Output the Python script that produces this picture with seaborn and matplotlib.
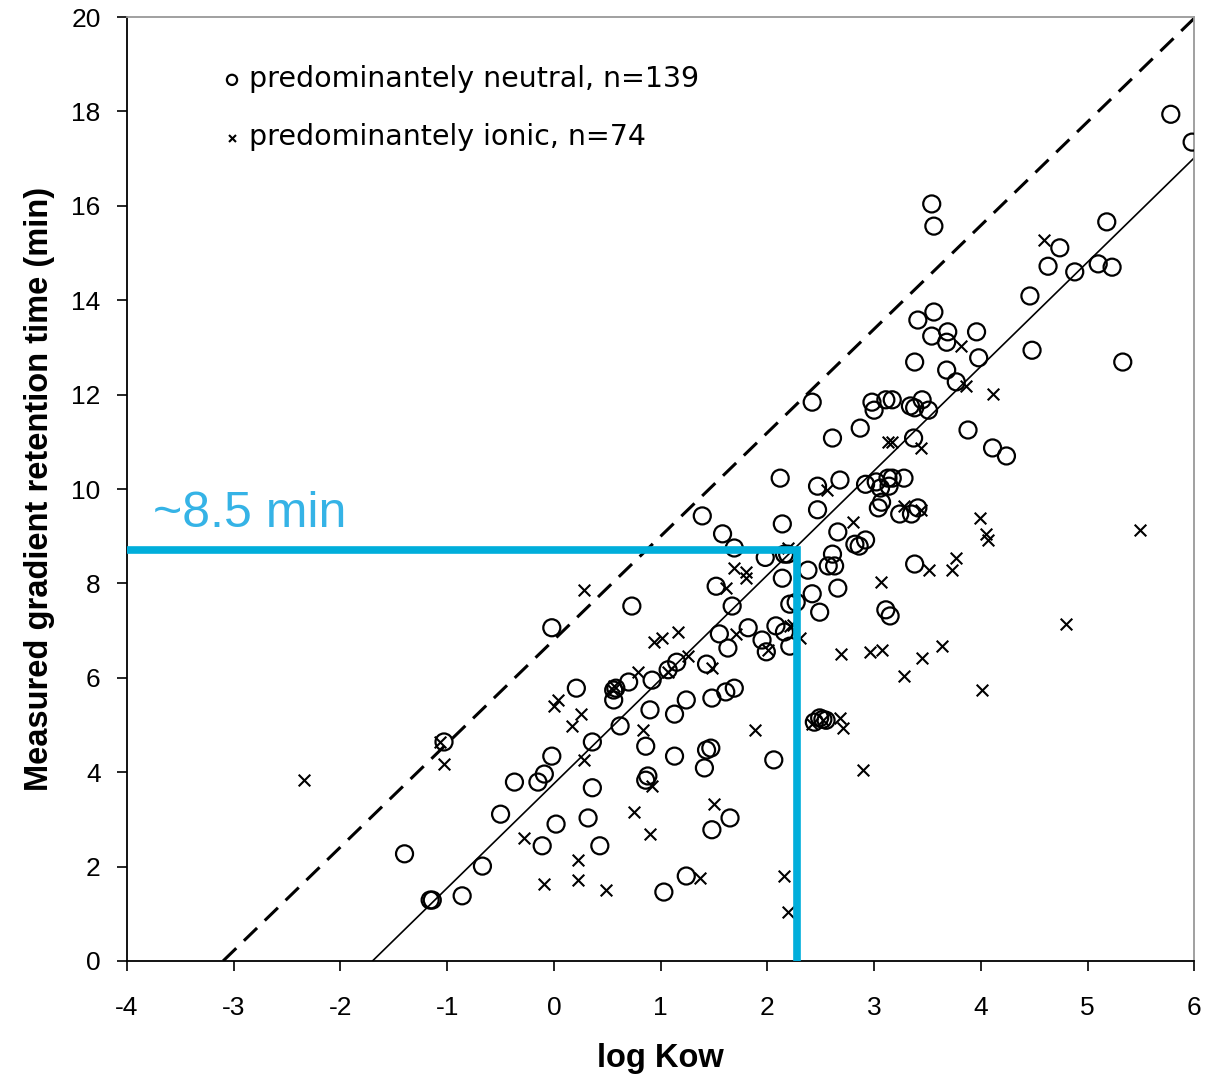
import pandas as pd
import matplotlib
matplotlib.use("Agg")
import matplotlib.pyplot as plt
import seaborn as sns

# predominantly neutral compounds (log Kow, retention time in min)
neutral_logkow = [5.78, 5.98, 3.54, 3.56, 5.18, 4.74, 4.63, 4.88, 5.10, 5.23, 4.46, 4.48, 5.33,
                  3.56, 3.41, 3.69, 3.68, 3.96, 3.54, 3.98, 3.38, 3.68, 3.77, 2.42, 2.98, 3.11,
                  3.17, 3.00, 3.34, 3.38, 3.45, 3.51, 3.88, 2.87, 2.61, 3.37, 4.11, 4.24, 2.12,
                  2.68, 3.13, 3.17, 3.28, 3.14, 2.47, 2.92, 3.06, 3.07, 3.04, 2.47, 3.24, 3.35,
                  3.41, 1.39, 2.14, 2.66, 1.58, 2.92, 2.82, 2.86, 1.69, 2.16, 2.61, 2.63, 2.57,
                  2.38, 3.38, 2.14, 1.52, 2.66, 2.42, 0.73, 1.67, 2.21, 2.49, 3.11, 3.15, 1.82,
                  2.08, 2.16, 1.55, -0.02, 1.95, 1.63, 1.99, 2.21, 1.15, 1.43, 1.07, 0.70, 0.56,
                  0.58, 0.21, 0.92, 1.24, 1.48, 1.61, 1.69, 0.56, 0.90, 1.13, 2.44, 2.49, 2.55,
                  0.62, -0.02, 0.36, -1.03, 0.86, 1.43, 1.47, 1.13, 2.06, -0.09, -0.37, -0.15,
                  0.86, 0.88, 1.41, 0.36, -0.50, 0.32, 0.02, 1.65, 1.48, -0.11, 0.43, -1.40,
                  -0.67, 1.24, -1.14, -1.16, -0.86, 1.03, 2.19, 2.27, 1.98, 2.52, 3.02]
neutral_rt = [17.94, 17.35, 16.04, 15.57, 15.66, 15.11, 14.72, 14.60, 14.77, 14.70, 14.09, 12.94, 12.69,
              13.75, 13.58, 13.33, 13.11, 13.33, 13.24, 12.78, 12.69, 12.52, 12.27, 11.84, 11.84, 11.89,
              11.89, 11.67, 11.76, 11.72, 11.89, 11.67, 11.25, 11.29, 11.08, 11.08, 10.87, 10.70, 10.23,
              10.19, 10.23, 10.23, 10.23, 10.06, 10.06, 10.10, 10.02, 9.72, 9.60, 9.56, 9.47, 9.47,
              9.60, 9.43, 9.26, 9.09, 9.05, 8.92, 8.83, 8.79, 8.75, 8.62, 8.62, 8.37, 8.37,
              8.28, 8.41, 8.11, 7.94, 7.90, 7.78, 7.52, 7.52, 7.56, 7.39, 7.44, 7.31, 7.06,
              7.10, 6.97, 6.93, 7.06, 6.80, 6.63, 6.55, 6.67, 6.33, 6.29, 6.17, 5.91, 5.74,
              5.78, 5.78, 5.95, 5.53, 5.57, 5.70, 5.78, 5.53, 5.32, 5.23, 5.06, 5.15, 5.10,
              4.98, 4.34, 4.64, 4.64, 4.55, 4.47, 4.51, 4.34, 4.26, 3.96, 3.79, 3.79,
              3.83, 3.92, 4.09, 3.67, 3.11, 3.03, 2.90, 3.03, 2.78, 2.44, 2.44, 2.27,
              2.01, 1.80, 1.29, 1.29, 1.38, 1.46, 8.62, 7.60, 8.55, 5.12, 10.15]

# predominantly ionic compounds
ionic_logkow = [-2.34, -1.07, -1.03, 0.28, 0.00, 0.04, 0.17, 0.25, 0.28, -0.28, -0.09, 0.23, 0.23,
                0.49, 0.55, 0.56, 0.75, 0.90, 0.92, 0.83, 0.79, 0.94, 1.01, 1.16, 1.07, 1.37,
                1.50, 1.48, 1.61, 1.69, 1.80, 1.80, 1.88, 1.71, 1.26, 2.16, 2.19, 2.01, 2.21,
                2.31, 2.19, 2.80, 2.56, 3.13, 3.17, 3.44, 3.44, 3.28, 3.06, 3.51, 3.77, 3.73,
                3.99, 4.05, 4.07, 4.11, 3.86, 3.81, 4.59, 5.49, 4.80, 4.01, 3.64, 3.45, 2.96,
                3.07, 2.69, 3.28, 2.90, 2.68, 2.71, 2.42, 2.24, 2.52]
ionic_rt = [3.83, 4.64, 4.17, 7.86, 5.40, 5.53, 4.98, 5.23, 4.26, 2.61, 1.63, 2.14, 1.72,
            1.50, 5.74, 5.83, 3.16, 2.69, 3.71, 4.89, 6.12, 6.76, 6.84, 6.97, 6.12, 1.76,
            3.33, 6.21, 7.90, 8.33, 8.24, 8.11, 4.89, 6.93, 6.46, 1.80, 1.04, 6.59, 7.10,
            6.84, 8.75, 9.30, 9.98, 11.00, 11.00, 10.87, 9.56, 9.64, 8.03, 8.28, 8.54, 8.28,
            9.39, 9.05, 8.92, 12.01, 12.18, 13.03, 15.28, 9.13, 7.14, 5.74, 6.67, 6.42, 6.55,
            6.59, 6.50, 6.04, 4.05, 5.15, 4.94, 5.02, 7.12, 5.10]

# regression lines: x-intercept and slope
dashed_x0, dashed_slope = -3.10, 2.195
solid_x0, solid_slope = -1.70, 2.21

# read-off example
read_logkow, read_rt = 2.28, 8.70
read_label = "~8.5 min"

x_ticks = list(range(-4, 7))
y_ticks = list(range(0, 21, 2))

df_n = pd.DataFrame({"logkow": neutral_logkow, "rt": neutral_rt})
df_i = pd.DataFrame({"logkow": ionic_logkow, "rt": ionic_rt})

sns.set_theme(style="white")
plt.rcParams["font.family"] = ["Liberation Sans", "DejaVu Sans"]
plt.rcParams["axes.unicode_minus"] = False
plt.rcParams["text.color"] = "black"
plt.rcParams["axes.labelcolor"] = "black"

fig = plt.figure(figsize=(12.1, 10.79), dpi=100)
ax = fig.add_axes([0.105, 0.1094, 0.882, 0.8748])

sns.scatterplot(data=df_n, x="logkow", y="rt", ax=ax, marker="o", s=150,
                facecolor="none", edgecolor="black", linewidth=1.6,
                label="predominantely neutral, n=139", zorder=3)
sns.scatterplot(data=df_i, x="logkow", y="rt", ax=ax, marker="x", s=70,
                color="black", linewidth=1.5,
                label="predominantely ionic, n=74", zorder=3)

ax.axline((dashed_x0, 0), slope=dashed_slope, color="black", lw=2.2,
          linestyle=(0, (6, 3.5)), zorder=2)
ax.axline((solid_x0, 0), slope=solid_slope, color="black", lw=1.2, zorder=2)

ax.plot([-4, read_logkow, read_logkow], [read_rt, read_rt, 0],
        color="#00aedb", lw=5.5, solid_joinstyle="miter", zorder=4)
ax.text(-3.76, 9.2, read_label, color="#35b3e6", fontsize=36,
        ha="left", va="baseline", zorder=5)

ax.set_xlim(-4, 6)
ax.set_ylim(0, 20)
ax.set_xticks(x_ticks)
ax.set_yticks(y_ticks)
ax.tick_params(axis="both", direction="out", length=7, width=1.2,
               colors="black", bottom=True, left=True)
ax.tick_params(axis="x", pad=18)
ax.tick_params(axis="y", pad=12)
for lab in ax.get_xticklabels() + ax.get_yticklabels():
    lab.set_fontsize(19)
ax.set_xlabel("log Kow", fontsize=23.5, fontweight="bold", labelpad=17)
ax.set_ylabel("Measured gradient retention time (min)", fontsize=23.5,
              fontweight="bold", labelpad=12)

for side in ["left", "bottom"]:
    ax.spines[side].set_color("black")
    ax.spines[side].set_linewidth(1.3)
for side in ["top", "right"]:
    ax.spines[side].set_color("#999999")
    ax.spines[side].set_linewidth(1.3)

leg = ax.legend(loc="upper left", bbox_to_anchor=(0.061, 0.976), frameon=False,
                markerscale=0.6, handletextpad=0.1, labelspacing=1.05,
                handlelength=1.0, prop={"family": "DejaVu Sans", "size": 20.5})
for t in leg.get_texts():
    t.set_color("black")

fig.savefig("out.png", dpi=100)
plt.close(fig)
